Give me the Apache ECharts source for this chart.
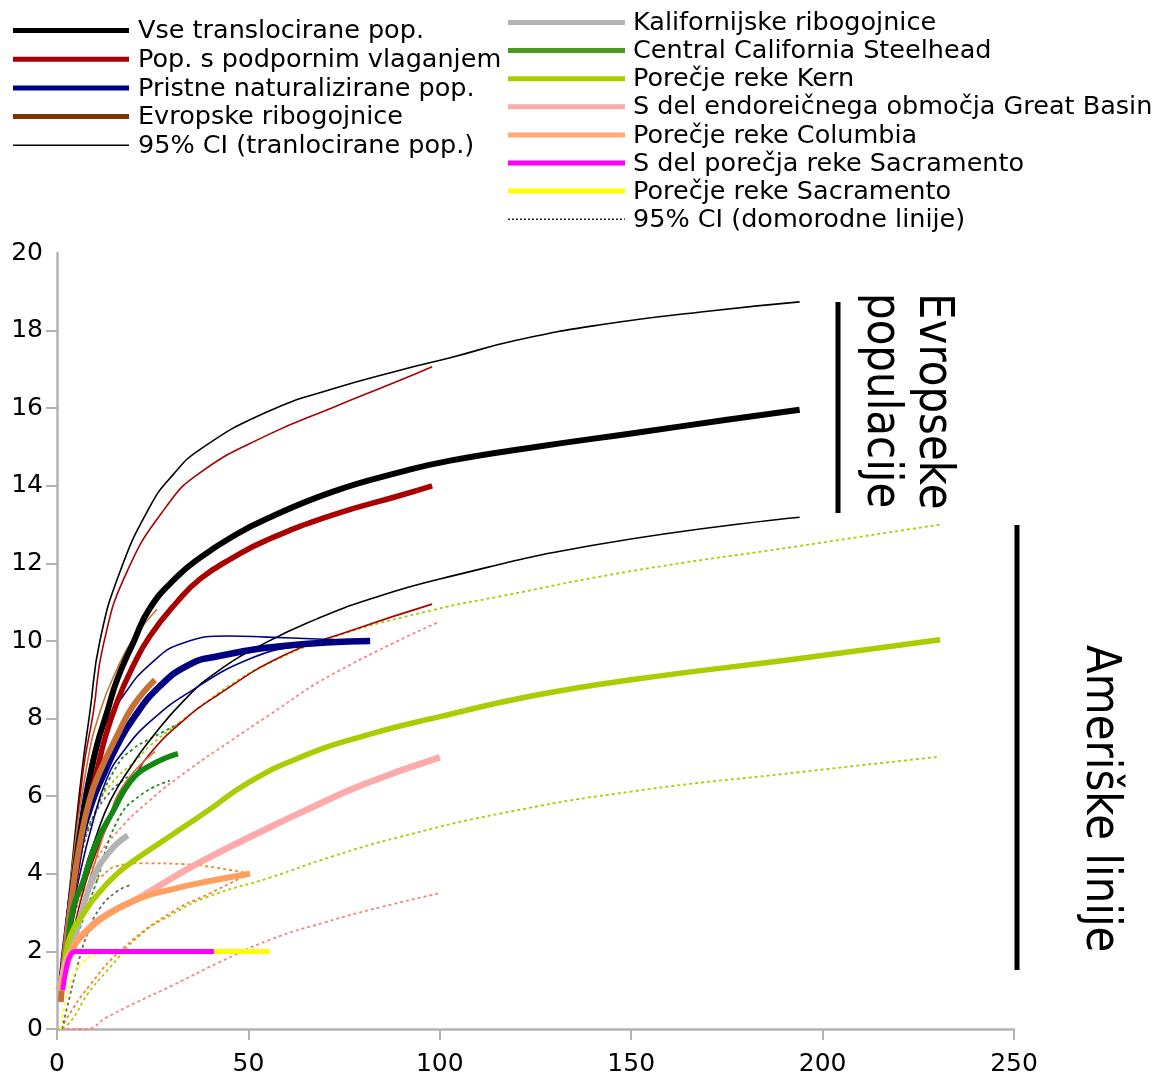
<!DOCTYPE html>
<html>
<head>
<meta charset="utf-8">
<script src="https://cdn.jsdelivr.net/npm/echarts@6/dist/echarts.min.js"></script>
<style>
  html, body { margin: 0; padding: 0; background: #ffffff; }
  #chart { width: 1158px; height: 1077px; }
</style>
</head>
<body>
<div id="chart"></div>
<script>
// Axis ticks
const xTicks = [0, 50, 100, 150, 200, 250];
const yTicks = [0, 2, 4, 6, 8, 10, 12, 14, 16, 18, 20];

// Translocated populations: mean curves and 95% CI bounds, [n, richness]
const vseMean = [[1,1],[2,1.9],[4,3.6],[6,5.0],[8.6,6.45],[10.4,7.3],[13.1,8.17],[15.7,9.0],[19.9,9.95],[24.3,10.85],[31.3,11.65],[37.4,12.15],[46,12.7],[54.8,13.15],[72.1,13.85],[89.6,14.35],[102.7,14.65],[125,15.0],[150,15.35],[175,15.7],[194,15.96]];
const vseUpper = [[1,1],[2,2.2],[4,4.3],[6.5,6.63],[8.6,8.17],[11.2,10.0],[16.5,11.8],[24.3,13.47],[30,14.25],[37.4,14.94],[54.8,15.9],[72.1,16.5],[89.6,16.98],[102.7,17.3],[120,17.75],[142,18.15],[170,18.5],[194,18.74]];
const vseLower = [[1,1],[2,1.6],[4,2.7],[7,4.0],[10,4.9],[14,5.9],[19.9,6.85],[24.3,7.45],[33,8.45],[41.7,9.2],[54.8,9.97],[67.9,10.57],[81.8,11.08],[100,11.6],[142,12.5],[194,13.19]];

const podpMean = [[1,1],[2,1.8],[4,3.3],[6,4.6],[8,5.7],[10.4,6.63],[12.5,7.48],[15.7,8.43],[19.9,9.36],[24.3,10.13],[31.3,11.0],[37.4,11.6],[46,12.15],[54.8,12.6],[72.1,13.25],[89.6,13.75],[98,14.0]];
const podpUpper = [[1,1],[2,2.1],[4,4.0],[6.8,6.63],[9.5,8.17],[12.1,9.9],[18.2,11.77],[28.6,13.47],[37.4,14.34],[54.8,15.3],[72.1,16.02],[89.6,16.72],[98,17.07]];
const podpLower = [[1,1],[2,1.5],[4,2.4],[7,3.6],[10,4.5],[15,5.6],[20,6.45],[24.3,7.1],[33,7.95],[41.7,8.59],[59,9.62],[76.5,10.26],[98,10.95]];

const pristneMean = [[1,1],[3,2.8],[6,4.7],[9,5.8],[12.5,6.63],[15.7,7.3],[19.9,8.0],[26.9,8.84],[34.7,9.4],[41.7,9.6],[59,9.87],[81.8,10.0]];
const pristneUpper = [[1,1],[3,3],[5,4.7],[8.6,6.79],[12.1,7.74],[17.3,8.59],[24.3,9.4],[33,9.95],[45,10.13],[54.8,10.1],[67.9,10.05],[81.8,10.0]];
const pristneLower = [[1,1],[3,2.5],[6,4.0],[9,5.2],[13,6.45],[17.3,7.15],[24.3,7.92],[34.7,8.69],[50.4,9.54],[63.5,9.87],[81,10.0]];

const evrRibMean = [[1,0.7],[2,1.9],[4,3.5],[6,4.8],[8.5,5.9],[11.2,6.63],[15.7,7.56],[19.9,8.33],[25.6,9.0]];
const evrRibUpper = [[1,0.7],[2,2.2],[4,4.2],[7.8,6.79],[11.2,8.17],[15.7,9.28],[19.9,10.05],[26.1,10.82]];
const evrRibLower = [[1,0.7],[3,1.8],[6,3.0],[9,4.0],[13,5.24],[17.3,6.27],[25.6,7.15]];

// Native lineages: mean curves and 95% CI bounds
const kalifMean = [[0.3,1.0],[3.4,1.9],[6,2.85],[9.4,3.88],[13.8,4.58],[18.5,4.99]];
const kalifUpper = [[1,1.3],[3,2.9],[6,4.4],[9.4,5.42],[13.8,6.1],[18.5,6.5]];
const kalifLower = [[1.3,0],[2.6,0.54],[5.2,1.57],[7.8,2.42],[11.2,3.11],[15.7,3.55],[19,3.7]];

const ccsMean = [[1,1],[2.5,1.9],[4.2,3.1],[6.8,3.8],[10.4,4.83],[14.6,5.6],[19.1,6.37],[24.3,6.79],[31.6,7.1]];
const ccsUpper = [[1,1.2],[3,3],[6,4.6],[10,5.6],[15.7,6.79],[19.9,7.22],[24.3,7.48],[32.5,7.9]];
const ccsLower = [[1,0.8],[3,1.6],[6,2.6],[10,3.7],[15.7,5.35],[21.7,6.02],[29.5,6.4]];

const kernMean = [[1,1],[2,1.7],[3.5,2.4],[6.8,2.95],[10,3.4],[15.7,4.0],[21.7,4.45],[30,5.0],[39,5.6],[50,6.35],[63.5,7.0],[80,7.55],[100,8.05],[125,8.6],[150,9.0],[194,9.55],[230.7,10.03]];
const kernUpper = [[1,1],[3,2.6],[6,4.3],[10,5.6],[14,6.3],[20.9,6.95],[24.3,7.3],[31.3,7.85],[37.4,8.3],[45,8.85],[54.8,9.4],[72.1,10.1],[98.3,10.8],[115.7,11.15],[150,11.8],[194,12.45],[230.7,13.0]];
const kernLower = [[1.5,0],[4,0.25],[8,0.9],[13,1.49],[21.7,2.42],[30,2.95],[39.2,3.4],[55.6,3.9],[72,4.45],[89.6,4.95],[115.7,5.55],[150,6.12],[194,6.62],[230.7,7.02]];

const greatBasinMean = [[1,1],[2,1.6],[4.2,2.1],[6.8,2.45],[13,2.95],[20,3.3],[24.3,3.55],[37.4,4.3],[55.6,5.2],[63.5,5.57],[80,6.3],[100,7.0]];
const greatBasinUpper = [[1,1],[3,2.2],[6,3.4],[10,4.3],[15,5.0],[24.3,5.9],[34.7,6.7],[45,7.4],[54.8,8.05],[72.1,9.15],[100,10.5]];
const greatBasinLower = [[2.5,0],[7.5,0],[13,0.3],[20,0.65],[30.3,1.13],[42,1.7],[55.6,2.3],[70,2.75],[85,3.15],[100,3.5]];

const columbiaMean = [[1,1],[2.5,1.6],[4.2,2.08],[6.8,2.42],[13,2.93],[21.7,3.37],[30,3.6],[39.2,3.8],[50.4,4.0]];
const columbiaUpper = [[1,1],[1.6,1.83],[4.2,2.93],[6.8,3.55],[11.2,3.9],[15.7,4.2],[22,4.27],[33,4.25],[42,4.15],[50.4,4.0]];
const columbiaLower = [[1.3,0],[2.6,0.28],[8.6,1.13],[17.3,2.08],[30.3,3.03],[40,3.5],[47.8,3.88],[50.4,4.0]];

const sSacramentoMean = [[1.5,1],[2.5,1.6],[3.5,1.9],[5,2],[41,2]];
const sacramentoMean = [[1.5,1],[2.5,1.6],[3.5,1.9],[5,2],[55.6,2]];
const sacramentoLower = [[1,0],[2,0.6],[4,1.3],[7,1.75],[11,1.93],[16,2],[55.6,2]];

// Legend labels
const legendLeft = ['Vse translocirane pop.', 'Pop. s podpornim vlaganjem', 'Pristne naturalizirane pop.', 'Evropske ribogojnice', '95% CI (tranlocirane pop.)'];
const legendRight = ['Kalifornijske ribogojnice', 'Central California Steelhead', 'Porečje reke Kern', 'S del endoreičnega območja Great Basin', 'Porečje reke Columbia', 'S del porečja reke Sacramento', 'Porečje reke Sacramento', '95% CI (domorodne linije)'];
// Group annotations on the right
const groupLabels = [['Evropseke', 'populacije'], ['Ameriške linije']];

const FONT = 'DejaVu Sans';
const THIN = 1.6;
const DOT = [3, 3];

function curve(data, color, width, dash) {
  return {
    type: 'line',
    data: data,
    smooth: 0.5,
    showSymbol: false,
    silent: true,
    lineStyle: { color: color, width: width, type: dash || 'solid', cap: 'butt', join: 'round' }
  };
}

const series = [
  // 95% CI, native lineages
  curve(kernUpper, '#aacc00', 1.8, DOT),
  curve(kernLower, '#aacc00', 1.8, DOT),
  curve(greatBasinUpper, '#ff8080', 1.8, DOT),
  curve(greatBasinLower, '#ff8080', 1.8, DOT),
  curve(columbiaUpper, '#ff7f2a', 1.8, DOT),
  curve(columbiaLower, '#ff7f2a', 1.8, DOT),
  curve(kalifUpper, '#666666', 1.8, DOT),
  curve(kalifLower, '#666666', 1.8, DOT),
  curve(ccsUpper, '#228b22', 1.8, DOT),
  curve(ccsLower, '#228b22', 1.8, DOT),
  curve(sacramentoLower, '#ffff00', 1.8, DOT),
  // 95% CI, translocated populations
  curve(vseUpper, '#000000', THIN),
  curve(vseLower, '#000000', THIN),
  curve(podpUpper, '#aa0000', THIN),
  curve(podpLower, '#aa0000', THIN),
  curve(pristneUpper, '#000080', THIN),
  curve(pristneLower, '#000080', THIN),
  curve(evrRibUpper, '#c87137', THIN),
  curve(evrRibLower, '#c87137', THIN),
  // Means
  curve(vseMean, '#000000', 6),
  curve(podpMean, '#aa0000', 5.5),
  curve(pristneMean, '#000080', 6.5),
  curve(evrRibMean, '#c87137', 6),
  curve(ccsMean, '#118811', 5.5),
  curve(kalifMean, '#b3b3b3', 6),
  curve(kernMean, '#aacc00', 5.5),
  curve(greatBasinMean, '#ffaaaa', 6.5),
  curve(columbiaMean, '#ff9f60', 6),
  curve(sacramentoMean, '#ffff00', 5),
  curve(sSacramentoMean, '#ff00ff', 5)
];

// Legend drawn as graphic elements (two columns)
const leftStyles = [
  { color: '#000000', width: 5 },
  { color: '#aa0000', width: 5 },
  { color: '#000080', width: 5 },
  { color: '#803300', width: 5 },
  { color: '#000000', width: 1.5 }
];
const rightStyles = [
  { color: '#b3b3b3', width: 5 },
  { color: '#4a9a22', width: 5 },
  { color: '#aacc00', width: 5 },
  { color: '#ffaaaa', width: 5 },
  { color: '#ffaa77', width: 5 },
  { color: '#ff00ff', width: 5 },
  { color: '#ffff00', width: 5 },
  { color: '#000000', width: 1.3, dash: [2, 2] }
];

const graphics = [];
function legendColumn(labels, styles, x1, x2, tx, y0, dy) {
  labels.forEach(function (label, i) {
    const y = y0 + i * dy;
    const s = styles[i];
    graphics.push({
      type: 'line', silent: true,
      shape: { x1: x1, y1: y, x2: x2, y2: y },
      style: { stroke: s.color, lineWidth: s.width, lineDash: s.dash || null }
    });
    graphics.push({
      type: 'text', silent: true, x: tx, y: y + 1,
      style: { text: label, fontFamily: FONT, fontSize: 25.5, fill: '#000000', align: 'left', verticalAlign: 'middle' }
    });
  });
}
legendColumn(legendLeft, leftStyles, 13, 129, 138, 30.5, 28.7);
legendColumn(legendRight, rightStyles, 508, 625, 633, 22.5, 28.1);

// Group bars and rotated captions
graphics.push({ type: 'line', silent: true, shape: { x1: 838, y1: 302, x2: 838, y2: 513 }, style: { stroke: '#000000', lineWidth: 5 } });
graphics.push({ type: 'line', silent: true, shape: { x1: 1017, y1: 525, x2: 1017, y2: 970 }, style: { stroke: '#000000', lineWidth: 5 } });
function vText(text, cx, top) {
  graphics.push({
    type: 'text', silent: true, x: cx, y: top, rotation: -Math.PI / 2, scaleX: 0.875,
    style: { text: text, fontFamily: FONT, fontSize: 48, fill: '#000000', align: 'left', verticalAlign: 'middle' }
  });
}
vText(groupLabels[0][0], 932, 293);
vText(groupLabels[0][1], 880, 293);
vText(groupLabels[1][0], 1099, 645);

const axisGray = '#b3b3b3';
const option = {
  animation: false,
  backgroundColor: '#ffffff',
  grid: { left: 57, top: 253, right: 144, bottom: 46, containLabel: false },
  xAxis: {
    type: 'value', min: xTicks[0], max: xTicks[xTicks.length - 1], interval: 50,
    axisLine: { onZero: false, lineStyle: { color: axisGray, width: 2.5 } },
    axisTick: { show: true, length: 11, lineStyle: { color: axisGray, width: 2 } },
    axisLabel: { fontFamily: FONT, fontSize: 25, color: '#000000', margin: 23 },
    splitLine: { show: false }
  },
  yAxis: {
    type: 'value', min: yTicks[0], max: yTicks[yTicks.length - 1], interval: 2,
    axisLine: { show: true, onZero: false, lineStyle: { color: axisGray, width: 2.5 } },
    axisTick: { show: true, length: 11, lineStyle: { color: axisGray, width: 2 }, customValues: yTicks.slice(0, -1) },
    axisLabel: { fontFamily: FONT, fontSize: 25, color: '#000000', margin: 14 },
    splitLine: { show: false }
  },
  series: series,
  graphic: graphics
};

const chart = echarts.init(document.getElementById('chart'), null, { renderer: 'canvas' });
chart.setOption(option);
</script>
</body>
</html>
